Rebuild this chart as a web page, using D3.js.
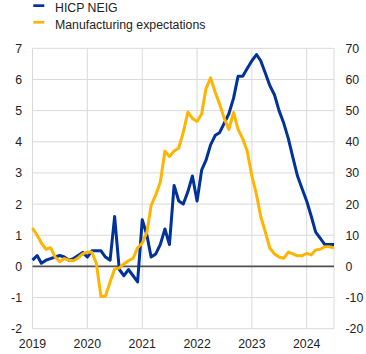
<!DOCTYPE html>
<html>
<head>
<meta charset="utf-8">
<script src="https://cdn.jsdelivr.net/npm/d3@7"></script>
<style>
	body { margin: 0; background: #fff; }
	text { font-family: Arial, "Liberation Sans", sans-serif; fill: #222; }
</style>
</head>
<body>
<svg id="chart" width="366" height="354"></svg>
<script>
// monthly observations, Jan 2019 - Jul 2024
var startMonth = new Date(2019, 0, 1);
var seriesNames = ["HICP NEIG", "Manufacturing expectations"];
var seriesColors = ["#003299", "#ffb400"];

// HICP NEIG, % (left axis)
var hicpNeig = [
	0.2, 0.35, 0.1, 0.2, 0.25, 0.3, 0.35, 0.3, 0.2, 0.25, 0.35, 0.45,
	0.3, 0.5, 0.5, 0.5, 0.3, 0.2, 1.6, -0.1, -0.3, -0.1, -0.3, -0.5,
	1.5, 1.0, 0.3, 0.4, 0.7, 1.2, 0.7, 2.6, 2.1, 2.0, 2.4, 2.9,
	2.1, 3.1, 3.4, 3.9, 4.2, 4.3, 4.6, 4.9, 5.4, 6.1, 6.1, 6.35,
	6.6, 6.8, 6.6, 6.2, 5.8, 5.5, 5.0, 4.6, 4.1, 3.5, 2.9, 2.5,
	2.1, 1.6, 1.1, 0.9, 0.7, 0.7, 0.7
];

// manufacturing selling price expectations, balance (right axis)
var manufExp = [
	12.3, 10, 7.5, 5.5, 6, 3, 1.5, 2.5, 2, 1.8, 2.7, 4,
	4.6, 4.5, 1, -9.7, -9.5, -5, -0.8, -0.5, 0.8, 1.8, 2.6, 6,
	7.5, 11, 19.5, 23, 27, 37, 35.3, 37, 38, 43, 49.5, 47.5,
	46.5, 49, 57, 60.5, 56, 52, 47.5, 44, 49.4, 44, 41, 37,
	29, 23, 16, 11, 5.8, 4, 3, 2.6, 4.6, 4, 3.4, 3.4,
	4.2, 3.7, 5.3, 5.5, 6.3, 6.3, 5.9
];

var leftTicks = [-2, -1, 0, 1, 2, 3, 4, 5, 6, 7];
var rightTicks = [-20, -10, 0, 10, 20, 30, 40, 50, 60, 70];
var yearTicks = [2019, 2020, 2021, 2022, 2023, 2024];

var svg = d3.select("#chart");
var m = {left: 32.5, right: 334, top: 48.3, bottom: 328.7};

var months = hicpNeig.map((d, i) => new Date(startMonth.getFullYear(), startMonth.getMonth() + i, 1));

var x = d3.scaleTime()
	.domain([months[0], months[months.length - 1]])
	.range([m.left, m.right]);
var yL = d3.scaleLinear().domain([-2, 7]).range([m.bottom, m.top]);
var yR = d3.scaleLinear().domain([-20, 70]).range([m.bottom, m.top]);

// grid
var grid = svg.append("g");
grid.selectAll(".hg")
	.data(leftTicks)
	.enter()
	.append("line")
	.attr("x1", m.left).attr("x2", m.right)
	.attr("y1", d => yL(d)).attr("y2", d => yL(d))
	.style("stroke", "#d9d9d9")
	.style("stroke-width", 1);
grid.selectAll(".vg")
	.data(yearTicks.map(y => new Date(y, 0, 1)))
	.enter()
	.append("line")
	.attr("x1", d => x(d)).attr("x2", d => x(d))
	.attr("y1", m.top).attr("y2", m.bottom)
	.style("stroke", "#d9d9d9")
	.style("stroke-width", 1);
grid.append("line")
	.attr("x1", m.right).attr("x2", m.right)
	.attr("y1", m.top).attr("y2", m.bottom)
	.style("stroke", "#d9d9d9");

// zero line
svg.append("line")
	.attr("x1", m.left).attr("x2", m.right)
	.attr("y1", yL(0)).attr("y2", yL(0))
	.style("stroke", "#505050")
	.style("stroke-width", 1.6);

// axes labels
svg.append("g").selectAll("text")
	.data(leftTicks)
	.enter()
	.append("text")
	.attr("x", 22)
	.attr("y", d => yL(d))
	.attr("dy", "0.36em")
	.attr("text-anchor", "end")
	.style("font-size", "12.3px")
	.text(d => d);
svg.append("g").selectAll("text")
	.data(rightTicks)
	.enter()
	.append("text")
	.attr("x", 345.5)
	.attr("y", d => yR(d))
	.attr("dy", "0.36em")
	.attr("text-anchor", "start")
	.style("font-size", "12.3px")
	.text(d => d);
svg.append("g").selectAll("text")
	.data(yearTicks)
	.enter()
	.append("text")
	.attr("x", d => x(new Date(d, 0, 1)))
	.attr("y", 347.5)
	.attr("text-anchor", "middle")
	.style("font-size", "12.3px")
	.text(d => d);

// lines (yellow drawn over blue)
var lineL = d3.line().x((d, i) => x(months[i])).y(d => yL(d));
var lineR = d3.line().x((d, i) => x(months[i])).y(d => yR(d));

svg.append("path")
	.datum(hicpNeig)
	.attr("d", lineL)
	.style("fill", "none")
	.style("stroke", seriesColors[0])
	.style("stroke-width", 3)
	.style("stroke-linejoin", "round");
svg.append("path")
	.datum(manufExp)
	.attr("d", lineR)
	.style("fill", "none")
	.style("stroke", seriesColors[1])
	.style("stroke-width", 3)
	.style("stroke-linejoin", "round");

// legend
var legend = svg.append("g").selectAll("g")
	.data(seriesNames)
	.enter()
	.append("g")
	.attr("transform", (d, i) => "translate(0," + (i * 16.6) + ")");
legend.append("rect")
	.attr("x", 33.3).attr("y", 4.3)
	.attr("width", 11).attr("height", 2.7)
	.style("fill", (d, i) => seriesColors[i]);
legend.append("text")
	.attr("x", 55)
	.attr("y", 12.4)
	.style("font-size", "12.3px")
	.text(d => d);
</script>
</body>
</html>
